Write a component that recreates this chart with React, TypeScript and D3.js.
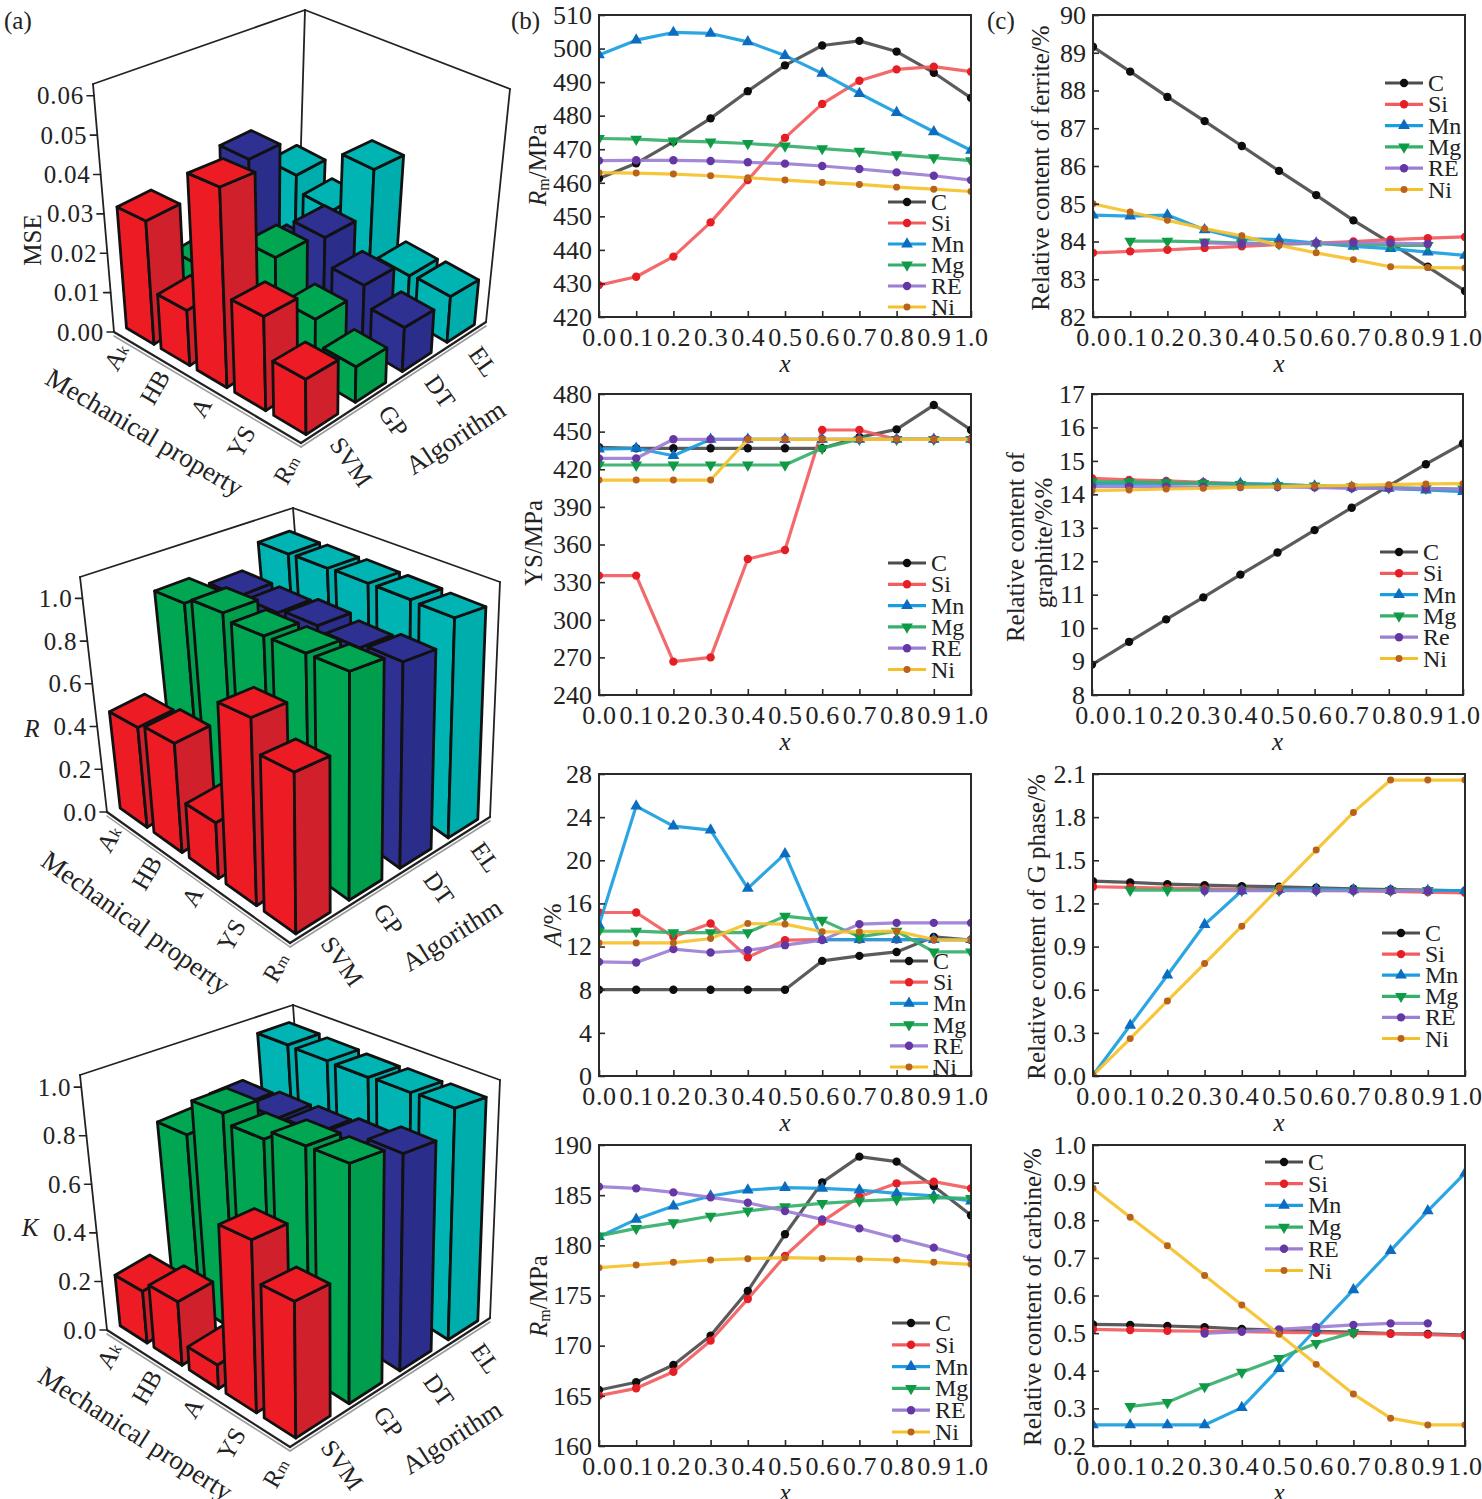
import React, { useEffect, useRef } from 'react';
import * as d3 from 'd3';

const FONT = "'Liberation Serif', 'Times New Roman', serif";

// ---- (a) 3D bar charts ----
const properties = ['Ak', 'HB', 'A', 'YS', 'Rm'];
const algorithms = ['SVM', 'GP', 'DT', 'EL'];

const mseSVM = [0.031, 0.0135, 0.048, 0.022, 0.0126];
const mseGP = [0.012, 0.012, 0.0246, 0.0145, 0.0085];
const mseDT = [0.034, 0.012, 0.023, 0.016, 0.011];
const mseEL = [0.0225, 0.018, 0.0349, 0.0115, 0.012];
const mseTicks = [0, 0.01, 0.02, 0.03, 0.04, 0.05, 0.06];

const rSVM = [0.455, 0.476, 0.233, 0.751, 0.618];
const rGP = [0.926, 0.956, 0.925, 0.925, 0.924];
const rDT = [0.86, 0.86, 0.88, 0.86, 0.88];
const rEL = [0.985, 0.99, 0.995, 0.995, 0.99];
const rTicks = [0, 0.2, 0.4, 0.6, 0.8, 1.0];

const kSVM = [0.21, 0.25, 0.09, 0.64, 0.49];
const kGP = [0.75, 0.91, 0.87, 0.91, 0.91];
const kDT = [0.78, 0.8, 0.81, 0.83, 0.87];
const kEL = [0.98, 0.975, 0.97, 0.975, 0.98];
const kTicks = [0, 0.2, 0.4, 0.6, 0.8, 1.0];

const barFace: Record<string, string> = { SVM: '#ed1c24', GP: '#00a651', DT: '#2e3192', EL: '#00b4b4' };
const barSide: Record<string, string> = { SVM: '#cf202c', GP: '#009e4c', DT: '#2a2d8a', EL: '#00adad' };

// ---- (b), (c) line charts ----
const elements = ['C', 'Si', 'Mn', 'Mg', 'RE', 'Ni'];
const xValues = [0, 0.1, 0.2, 0.3, 0.4, 0.5, 0.6, 0.7, 0.8, 0.9, 1.0];
const xTicks = [0, 0.1, 0.2, 0.3, 0.4, 0.5, 0.6, 0.7, 0.8, 0.9, 1.0];

const b1C = [461.3, 465.8, 472.2, 479.2, 487.3, 495.0, 500.9, 502.3, 499.1, 492.8, 485.3];
const b1Si = [429.5, 432.0, 438.0, 448.2, 460.8, 473.4, 483.5, 490.4, 493.8, 494.6, 493.1];
const b1Mn = [498.1, 502.5, 504.8, 504.5, 502.0, 497.9, 492.6, 486.6, 480.9, 475.2, 469.7];
const b1Mg = [473.2, 473.0, 472.5, 472.2, 471.7, 471.0, 470.2, 469.4, 468.4, 467.5, 466.6];
const b1RE = [466.6, 466.7, 466.7, 466.5, 466.1, 465.7, 465.0, 464.1, 463.1, 462.1, 460.8];
const b1Ni = [463.0, 462.9, 462.6, 462.1, 461.5, 460.8, 460.1, 459.5, 458.7, 458.1, 457.4];
const b1Ticks = [420, 430, 440, 450, 460, 470, 480, 490, 500, 510];

const b2C = [437.5, 436.7, 436.7, 436.7, 436.7, 436.7, 436.7, 445.5, 451.8, 471.2, 451.3];
const b2Si = [335.2, 335.2, 266.6, 270.0, 348.4, 355.6, 451.3, 451.3, 443.9, 443.9, 443.9];
const b2Mn = [436.1, 436.7, 430.8, 443.9, 443.9, 443.9, 443.9, 443.9, 443.9, 443.9, 443.9];
const b2Mg = [423.4, 423.4, 423.4, 423.4, 423.4, 423.4, 436.7, 443.9, 443.9, 443.9, 443.9];
const b2RE = [428.7, 428.7, 443.9, 443.9, 443.9, 443.9, 443.9, 443.9, 443.9, 443.9, 443.9];
const b2Ni = [411.4, 411.4, 411.4, 411.4, 443.9, 443.9, 443.9, 443.9, 443.9, 443.9, 443.9];
const b2Ticks = [240, 270, 300, 330, 360, 390, 420, 450, 480];

const b3C = [8.0, 8.0, 8.0, 8.0, 8.0, 8.0, 10.67, 11.14, 11.5, 12.9, 12.6];
const b3Si = [15.16, 15.16, 12.9, 14.14, 11.0, 12.6, 12.65, 12.65, 12.65, 12.65, 12.65];
const b3Mn = [14.0, 25.03, 23.17, 22.8, 17.4, 20.6, 12.65, 12.65, 12.65, 12.65, 12.65];
const b3Mg = [13.43, 13.43, 13.3, 13.3, 13.3, 14.82, 14.45, 12.9, 13.43, 11.5, 11.5];
const b3RE = [10.58, 10.52, 11.76, 11.45, 11.66, 12.13, 12.6, 14.08, 14.2, 14.2, 14.2];
const b3Ni = [12.34, 12.34, 12.34, 12.75, 14.14, 14.08, 13.37, 13.37, 13.43, 12.65, 12.6];
const b3Ticks = [0, 4, 8, 12, 16, 20, 24, 28];

const b4C = [165.58, 166.35, 168.07, 171.0, 175.45, 181.1, 186.28, 188.84, 188.34, 185.9, 183.0];
const b4Si = [165.02, 165.75, 167.4, 170.5, 174.65, 178.94, 182.36, 184.85, 186.18, 186.35, 185.68];
const b4Mn = [180.86, 182.59, 183.92, 184.92, 185.51, 185.75, 185.68, 185.51, 185.18, 184.92, 184.42];
const b4Mg = [180.93, 181.69, 182.26, 182.92, 183.42, 183.85, 184.19, 184.42, 184.58, 184.75, 184.68];
const b4RE = [185.85, 185.68, 185.28, 184.78, 184.25, 183.42, 182.59, 181.69, 180.7, 179.77, 178.77];
const b4Ni = [177.77, 178.04, 178.31, 178.54, 178.67, 178.77, 178.7, 178.64, 178.54, 178.31, 178.11];
const b4Ticks = [160, 165, 170, 175, 180, 185, 190];

const c1C = [89.16, 88.5, 87.83, 87.19, 86.53, 85.87, 85.23, 84.56, 83.96, 83.33, 82.69];
const c1Si = [83.7, 83.74, 83.78, 83.83, 83.87, 83.92, 83.96, 84.0, 84.05, 84.09, 84.12];
const c1Mn = [84.7, 84.67, 84.7, 84.31, 84.07, 84.05, 83.96, 83.87, 83.81, 83.72, 83.63];
const c1Mg = [null, 84.01, 84.01, 83.99, 83.96, 83.94, 83.94, 83.93, 83.9, 83.9, null];
const c1RE = [null, null, null, 83.96, 83.94, 83.94, 83.96, 83.96, 83.96, 83.94, null];
const c1Ni = [85.0, 84.78, 84.56, 84.34, 84.15, 83.9, 83.7, 83.52, 83.33, 83.31, 83.3];
const c1Ticks = [82, 83, 84, 85, 86, 87, 88, 89, 90];

const c2C = [8.91, 9.59, 10.26, 10.92, 11.6, 12.26, 12.93, 13.6, 14.25, 14.9, 15.52];
const c2Si = [14.48, 14.43, 14.4, 14.36, 14.32, 14.28, 14.25, 14.21, 14.18, 14.15, 14.11];
const c2Mn = [14.33, 14.33, 14.33, 14.33, 14.32, 14.3, 14.25, 14.21, 14.18, 14.13, 14.08];
const c2Mg = [14.38, 14.37, 14.35, 14.33, 14.3, 14.27, 14.25, 14.22, 14.2, 14.18, 14.16];
const c2RE = [14.23, 14.23, 14.23, 14.22, 14.22, 14.22, 14.21, 14.18, 14.18, 14.17, 14.15];
const c2Ni = [14.11, 14.13, 14.16, 14.18, 14.21, 14.23, 14.25, 14.27, 14.29, 14.31, 14.32];
const c2Ticks = [8, 9, 10, 11, 12, 13, 14, 15, 16, 17];

const c3C = [1.355, 1.346, 1.334, 1.327, 1.32, 1.316, 1.309, 1.302, 1.297, 1.292, 1.288];
const c3Si = [1.316, 1.311, 1.306, 1.302, 1.298, 1.295, 1.291, 1.288, 1.284, 1.279, 1.274];
const c3Mn = [0.005, 0.353, 0.701, 1.053, 1.288, 1.297, 1.3, 1.295, 1.29, 1.29, 1.29];
const c3Mg = [null, 1.292, 1.292, 1.292, 1.29, 1.29, 1.29, 1.29, 1.29, 1.29, null];
const c3RE = [null, null, null, 1.288, 1.288, 1.288, 1.288, 1.288, 1.288, 1.288, null];
const c3Ni = [0.005, 0.26, 0.522, 0.782, 1.042, 1.309, 1.571, 1.833, 2.058, 2.058, 2.058];
const c3Ticks = [0, 0.3, 0.6, 0.9, 1.2, 1.5, 1.8, 2.1];

const c4C = [0.523, 0.522, 0.519, 0.516, 0.511, 0.508, 0.505, 0.503, 0.499, 0.498, 0.495];
const c4Si = [0.51, 0.508, 0.506, 0.505, 0.504, 0.502, 0.501, 0.499, 0.498, 0.496, 0.493];
const c4Mn = [0.256, 0.256, 0.256, 0.256, 0.302, 0.406, 0.511, 0.615, 0.719, 0.825, 0.925];
const c4Mg = [null, 0.305, 0.316, 0.358, 0.396, 0.433, 0.473, 0.502, null, null, null];
const c4RE = [null, null, null, 0.499, 0.504, 0.51, 0.516, 0.522, 0.526, 0.526, null];
const c4Ni = [0.885, 0.808, 0.732, 0.653, 0.575, 0.497, 0.417, 0.338, 0.274, 0.256, 0.256];
const c4Ticks = [0.2, 0.3, 0.4, 0.5, 0.6, 0.7, 0.8, 0.9, 1.0];

const lineColors = ['#4d4d4d', '#f25c5f', '#1a9ee0', '#35b06a', '#9b7fd4', '#f5c12a'];
const markerColors = ['#0d0d0d', '#e51e25', '#0b6cc0', '#0f9a45', '#6437a5', '#b8621b'];

type Pt = [number, number];

const bars3d = [
  {
    values: [mseSVM, mseGP, mseDT, mseEL], zmax: 0.063, ticks: mseTicks, fmt: '.2f',
    title: 'MSE', titleRot: true, titleAt: [32, 240] as Pt,
    box: { L: [114, 332], F: [301, 443], R: [486, 322], TL: [93, 84], TR: [510, 89], TB: [305, 10] },
  },
  {
    values: [rSVM, rGP, rDT, rEL], zmax: 1.1, ticks: rTicks, fmt: '.1f',
    title: 'R', titleRot: false, titleAt: [32, 728] as Pt,
    box: { L: [107, 812], F: [290, 943], R: [490, 817], TL: [80, 577], TR: [500, 582], TB: [293, 508] },
  },
  {
    values: [kSVM, kGP, kDT, kEL], zmax: 1.05, ticks: kTicks, fmt: '.1f',
    title: 'K', titleRot: false, titleAt: [30, 1227] as Pt,
    box: { L: [107, 1330], F: [290, 1447], R: [490, 1318], TL: [80, 1075], TR: [500, 1080], TB: [293, 1005] },
  },
];

const linePanels = [
  { x0: 599, x1: 971, y0: 15, y1: 317, yDomain: [420, 510], ticks: b1Ticks, fmt: 'd', series: [b1C, b1Si, b1Mn, b1Mg, b1RE, b1Ni], legend: [888, 202, 21], names: elements, title: 'Rm', titleAt: [537, 165] },
  { x0: 599, x1: 971, y0: 394, y1: 695, yDomain: [240, 480], ticks: b2Ticks, fmt: 'd', series: [b2C, b2Si, b2Mn, b2Mg, b2RE, b2Ni], legend: [888, 563, 21.3], names: elements, title: 'YS', titleAt: [533, 543] },
  { x0: 599, x1: 971, y0: 774, y1: 1076, yDomain: [0, 28], ticks: b3Ticks, fmt: 'd', series: [b3C, b3Si, b3Mn, b3Mg, b3RE, b3Ni], legend: [890, 961, 21.2], names: elements, title: 'A', titleAt: [552, 925] },
  { x0: 599, x1: 971, y0: 1145, y1: 1446, yDomain: [160, 190], ticks: b4Ticks, fmt: 'd', series: [b4C, b4Si, b4Mn, b4Mg, b4RE, b4Ni], legend: [892, 1323, 21.8], names: elements, title: 'Rm', titleAt: [538, 1296] },
  { x0: 1093, x1: 1465, y0: 15, y1: 317, yDomain: [82, 90], ticks: c1Ticks, fmt: 'd', series: [c1C, c1Si, c1Mn, c1Mg, c1RE, c1Ni], legend: [1385, 83, 21.3], names: elements, title: 'ferrite', titleAt: [1040, 168] },
  { x0: 1092, x1: 1463, y0: 394, y1: 695, yDomain: [8, 17], ticks: c2Ticks, fmt: 'd', series: [c2C, c2Si, c2Mn, c2Mg, c2RE, c2Ni], legend: [1380, 552, 21.3], names: ['C', 'Si', 'Mn', 'Mg', 'Re', 'Ni'], title: 'graphite', titleAt: [1015, 547] },
  { x0: 1093, x1: 1465, y0: 774, y1: 1076, yDomain: [0, 2.1], ticks: c3Ticks, fmt: '.1f', series: [c3C, c3Si, c3Mn, c3Mg, c3RE, c3Ni], legend: [1382, 933, 21.1], names: elements, title: 'G', titleAt: [1036, 927] },
  { x0: 1093, x1: 1465, y0: 1145, y1: 1446, yDomain: [0.2, 1.0], ticks: c4Ticks, fmt: '.1f', series: [c4C, c4Si, c4Mn, c4Mg, c4RE, c4Ni], legend: [1265, 1162, 21.7], names: elements, title: 'carbine', titleAt: [1032, 1297] },
];

const WARP = 0.1;
const warpU = (u: number) => u * (1 - WARP + WARP * u);
const warpV = (v: number) => v * (1 + WARP - WARP * v);

function bil(a: number[], b: number[], c: number[], d: number[], u: number, v: number): Pt {
  const k0 = (1 - u) * (1 - v), k1 = u * (1 - v), k2 = u * v, k3 = (1 - u) * v;
  return [a[0] * k0 + b[0] * k1 + c[0] * k2 + d[0] * k3, a[1] * k0 + b[1] * k1 + c[1] * k2 + d[1] * k3];
}

function symbolFor(k: number) {
  const types = [d3.symbolCircle, d3.symbolCircle, d3.symbolTriangle, d3.symbolTriangle, d3.symbolCircle, d3.symbolCircle];
  const sizes = [55, 55, 60, 60, 55, 38];
  return d3.symbol().type(types[k]).size(sizes[k])()!;
}

function draw3D(svg: any, p: any) {
  const g = svg.append('g').attr('font-family', FONT);
  const { L, F, R, TL, TR, TB } = p.box;
  const B = [L[0] + R[0] - F[0], L[1] + R[1] - F[1]];
  const TF = [TL[0] + TR[0] - TB[0], TL[1] + TR[1] - TB[1]];
  const z = d3.scaleLinear().domain([0, p.zmax]).range([0, 1]);
  const uBand = d3.scaleBand().domain(properties).range([0, 1]).paddingInner(0.2).paddingOuter(0.1);
  const vBand = d3.scaleBand().domain(algorithms).range([0, 1]).paddingInner(0.36).paddingOuter(0.18);
  const P = (u: number, v: number, val: number): Pt => {
    const uu = warpU(u), vv = warpV(v);
    const f = bil(L, F, R, B, uu, vv);
    const t = bil(TL, TF, TR, TB, uu, vv);
    const w = z(val);
    return [f[0] + w * (t[0] - f[0]), f[1] + w * (t[1] - f[1])];
  };
  const poly = (pts: Pt[]) => 'M' + pts.map(q => q[0].toFixed(1) + ',' + q[1].toFixed(1)).join('L') + 'Z';
  const seg = (a: number[], b: number[], w = 1.8, col = '#222') =>
    g.append('line').attr('x1', a[0]).attr('y1', a[1]).attr('x2', b[0]).attr('y2', b[1])
      .attr('stroke', col).attr('stroke-width', w).attr('stroke-linecap', 'round');

  // back frame
  seg(B, TB); seg(TL, TB); seg(TB, TR); seg(L, TL); seg(R, TR);
  // floor edges with a grey shadow line
  seg([L[0], L[1] + 4], [F[0], F[1] + 4], 1.5, '#9a9a9a');
  seg([F[0], F[1] + 4], [R[0], R[1] + 4], 1.5, '#9a9a9a');
  seg(L, F, 2.2); seg(F, R, 2.2);

  // ticks on the left vertical edge
  p.ticks.forEach((t: number) => {
    const q = P(0, 0, t);
    seg([q[0] - 7, q[1]], q, 1.6);
    g.append('text').attr('x', q[0] - 10).attr('y', q[1]).attr('text-anchor', 'end')
      .attr('dominant-baseline', 'central').attr('font-size', 25).attr('fill', '#222')
      .attr('letter-spacing', 0.8).text(d3.format(p.fmt)(t));
  });

  // bars, back to front
  const cells: any[] = [];
  algorithms.forEach((a, j) => properties.forEach((pr, i) => cells.push({ i, j, a, pr, val: p.values[j][i] })));
  cells.sort((m, n) => (m.i - m.j) - (n.i - n.j) || (n.j - m.j));
  cells.forEach(c => {
    const u0 = uBand(c.pr)!, u1 = u0 + uBand.bandwidth();
    const v0 = vBand(c.a)!, v1 = v0 + vBand.bandwidth();
    const h = c.val;
    const bg = g.append('g').attr('stroke', '#111').attr('stroke-width', 2.8).attr('stroke-linejoin', 'round');
    bg.append('path').attr('d', poly([P(u0, v0, 0), P(u1, v0, 0), P(u1, v0, h), P(u0, v0, h)])).attr('fill', barFace[c.a]);
    bg.append('path').attr('d', poly([P(u1, v0, 0), P(u1, v1, 0), P(u1, v1, h), P(u1, v0, h)])).attr('fill', barSide[c.a]);
    bg.append('path').attr('d', poly([P(u0, v0, h), P(u1, v0, h), P(u1, v1, h), P(u0, v1, h)])).attr('fill', barFace[c.a]);
  });

  // category labels
  const edgeAngle = (a: number[], b: number[]) => Math.atan2(b[1] - a[1], b[0] - a[0]) * 180 / Math.PI;
  properties.forEach(pr => {
    const uc = uBand(pr)! + uBand.bandwidth() / 2;
    const q = P(uc, 0, 0);
    const x = q[0] - 19 + 27 * uc, y = q[1] - 4 + 28 * uc;
    const t = g.append('text').attr('x', x).attr('y', y).attr('text-anchor', 'end')
      .attr('dominant-baseline', 'hanging').attr('font-size', 25).attr('fill', '#222')
      .attr('transform', `rotate(-60,${x},${y})`);
    t.append('tspan').text(pr[0]);
    if (pr.length > 1) {
      if (pr === 'HB' || pr === 'YS') t.append('tspan').text(pr.slice(1));
      else t.append('tspan').attr('font-size', 16).attr('dy', 6).text(pr.slice(1));
    }
  });
  algorithms.forEach(a => {
    const vc = vBand(a)! + vBand.bandwidth() / 2;
    const q = P(1, vc, 0);
    const x = q[0] + 17, y = q[1] + 8;
    g.append('text').attr('x', x).attr('y', y).attr('dominant-baseline', 'hanging')
      .attr('font-size', 25).attr('fill', '#222').attr('transform', `rotate(55,${x},${y})`).text(a);
  });
  const mLF = [(L[0] + F[0]) / 2 - 63, (L[1] + F[1]) / 2 + 45];
  g.append('text').attr('x', mLF[0]).attr('y', mLF[1]).attr('text-anchor', 'middle').attr('dominant-baseline', 'central')
    .attr('font-size', 27).attr('fill', '#222').attr('transform', `rotate(${edgeAngle(L, F)},${mLF[0]},${mLF[1]})`)
    .text('Mechanical property');
  const mFR = [(F[0] + R[0]) / 2 + 62, (F[1] + R[1]) / 2 + 55];
  g.append('text').attr('x', mFR[0]).attr('y', mFR[1]).attr('text-anchor', 'middle').attr('dominant-baseline', 'central')
    .attr('font-size', 27).attr('fill', '#222').attr('transform', `rotate(${edgeAngle(F, R)},${mFR[0]},${mFR[1]})`)
    .text('Algorithm');

  // value axis title
  const [tx, ty] = p.titleAt;
  const tt = g.append('text').attr('x', tx).attr('y', ty).attr('text-anchor', 'middle').attr('dominant-baseline', 'central')
    .attr('font-size', 25).attr('fill', '#222');
  if (p.titleRot) tt.attr('transform', `rotate(-90,${tx},${ty})`).text(p.title);
  else tt.attr('font-style', 'italic').text(p.title);
}

function drawLines(svg: any, defs: any, p: any, idx: number) {
  const x = d3.scaleLinear().domain([0, 1]).range([p.x0, p.x1]);
  const y = d3.scaleLinear().domain(p.yDomain).range([p.y1, p.y0]);
  const g = svg.append('g').attr('font-family', FONT);
  const clipId = `clip-line-${idx}`;
  defs.append('clipPath').attr('id', clipId).append('rect')
    .attr('x', p.x0).attr('y', p.y0).attr('width', p.x1 - p.x0).attr('height', p.y1 - p.y0);
  const plot = g.append('g').attr('clip-path', `url(#${clipId})`);
  const line = d3.line<any>().defined(d => d[1] != null).x(d => x(d[0])).y(d => y(d[1]));

  p.series.forEach((vals: (number | null)[], k: number) => {
    const pts = xValues.map((xv, i) => [xv, vals[i]]);
    plot.append('path').attr('d', line(pts)).attr('fill', 'none').attr('stroke', lineColors[k])
      .attr('stroke-width', 3.2).attr('stroke-linejoin', 'round').attr('opacity', 0.92);
    plot.selectAll(null).data(pts.filter(d => d[1] != null)).enter().append('path')
      .attr('d', symbolFor(k))
      .attr('transform', (d: any) => `translate(${x(d[0])},${y(d[1])})${k === 3 ? ' rotate(180)' : ''}`)
      .attr('fill', markerColors[k]);
  });

  g.append('rect').attr('x', p.x0).attr('y', p.y0).attr('width', p.x1 - p.x0).attr('height', p.y1 - p.y0)
    .attr('fill', 'none').attr('stroke', '#2a2a2a').attr('stroke-width', 2);

  const xAxis = d3.axisBottom(x).tickValues(xTicks).tickFormat(d3.format('.1f')).tickSizeInner(-6).tickSizeOuter(0).tickPadding(11);
  const ax = g.append('g').attr('transform', `translate(0,${p.y1})`).call(xAxis);
  const yAxis = d3.axisLeft(y).tickValues(p.ticks).tickFormat(d3.format(p.fmt)).tickSizeInner(-6).tickSizeOuter(0).tickPadding(7);
  const ay = g.append('g').attr('transform', `translate(${p.x0},0)`).call(yAxis);
  [ax, ay].forEach(a => {
    a.select('.domain').remove();
    a.selectAll('line').attr('stroke', '#2a2a2a').attr('stroke-width', 1.6);
    a.selectAll('text').attr('font-size', 26).attr('font-family', FONT).attr('fill', '#222');
  });
  ax.selectAll('text').attr('letter-spacing', 0.6);

  // x title
  g.append('text').attr('x', (p.x0 + p.x1) / 2).attr('y', p.y1 + 46).attr('text-anchor', 'middle')
    .attr('dominant-baseline', 'central').attr('font-size', 25).attr('font-style', 'italic').attr('fill', '#222').text('x');

  // legend
  const [lx, ly, ldy] = p.legend;
  p.names.forEach((nm: string, k: number) => {
    const yy = ly + k * ldy;
    g.append('line').attr('x1', lx).attr('x2', lx + 38).attr('y1', yy).attr('y2', yy)
      .attr('stroke', lineColors[k]).attr('stroke-width', 3.2);
    g.append('path').attr('d', symbolFor(k))
      .attr('transform', `translate(${lx + 19},${yy})${k === 3 ? ' rotate(180)' : ''}`).attr('fill', markerColors[k]);
    g.append('text').attr('x', lx + 43).attr('y', yy).attr('dominant-baseline', 'central')
      .attr('font-size', 24).attr('fill', '#222').text(nm);
  });

  // y title
  const [tx, ty] = p.titleAt;
  const mk = (cx: number, cy: number) => g.append('text').attr('x', cx).attr('y', cy).attr('text-anchor', 'middle')
    .attr('dominant-baseline', 'central').attr('font-size', 25).attr('fill', '#222')
    .attr('transform', `rotate(-90,${cx},${cy})`);
  if (p.title === 'Rm') {
    const t = mk(tx, ty);
    t.append('tspan').attr('font-style', 'italic').text('R');
    t.append('tspan').attr('font-size', 16).attr('dy', 6).text('m');
    t.append('tspan').attr('dy', -6).text('/MPa');
  } else if (p.title === 'YS') {
    mk(tx, ty).text('YS/MPa');
  } else if (p.title === 'A') {
    const t = mk(tx, ty);
    t.append('tspan').attr('font-style', 'italic').text('A');
    t.append('tspan').text('/%');
  } else if (p.title === 'ferrite') {
    mk(tx, ty).text('Relative content of  ferrite/%');
  } else if (p.title === 'graphite') {
    mk(tx, ty).text('Relative content of');
    mk(tx + 28, ty - 4).text('graphite/%%');
  } else if (p.title === 'G') {
    mk(tx, ty).text('Relative content of G phase/%');
  } else if (p.title === 'carbine') {
    mk(tx, ty).text('Relative content of carbine/%');
  }
}

const App: React.FC = () => {
  const svgRef = useRef<SVGSVGElement | null>(null);

  useEffect(() => {
    document.body.style.margin = '0';
    const svg = d3.select(svgRef.current);
    svg.selectAll('*').remove();
    svg.append('rect').attr('width', 1482).attr('height', 1499).attr('fill', '#fff');
    const defs = svg.append('defs');

    bars3d.forEach(p => draw3D(svg, p));
    linePanels.forEach((p, i) => drawLines(svg, defs, p, i));

    const letters: [string, number][] = [['(a)', 4], ['(b)', 511], ['(c)', 987]];
    letters.forEach(([s, lx]) => {
      svg.append('text').attr('x', lx).attr('y', 29).attr('font-family', FONT).attr('font-size', 25)
        .attr('fill', '#222').text(s);
    });
  }, []);

  return <svg ref={svgRef} width={1482} height={1499} style={{ display: 'block' }} />;
};

export default App;
